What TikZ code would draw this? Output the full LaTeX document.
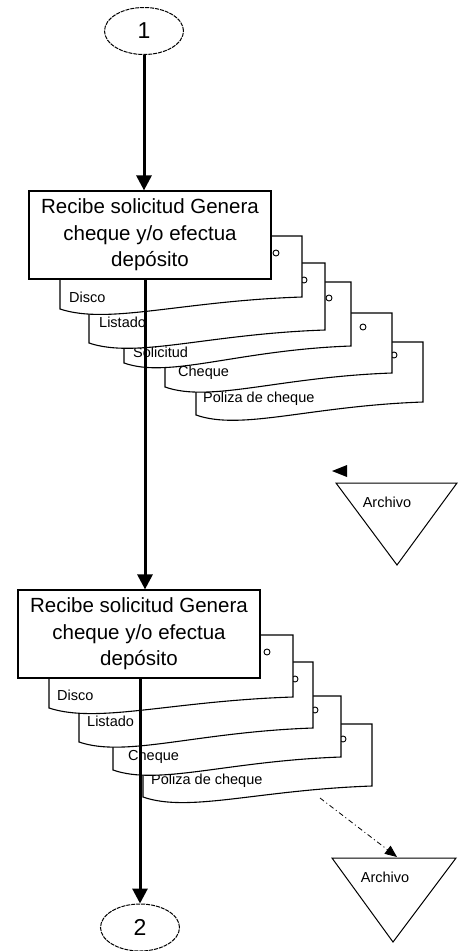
\documentclass[tikz,border=0pt]{standalone}
\usepackage{fontspec}
\setmainfont{Liberation Sans}
\usetikzlibrary{arrows.meta,calc,shapes.geometric}
% #1 L, #2 T, #3 R, #4 yL, #5 yR, #6 hole (x,y), #7 label (x,y), #8 label text, #9 label name
\newcommand\mydocshape[9]{%
  \path[docbody] (#1,#2) -- (#3,#2) -- (#3,#5)
    .. controls ({#1+0.5*(#3-#1)},{#5+4}) and ({#1+0.2*(#3-#1)},{#4+16}) .. (#1,#4) -- cycle;
  \draw[hole] #6 circle[radius=3];
  \node[doclabel] (#9) at #7 {#8};
}
\begin{document}
\begin{tikzpicture}[x=1pt,y=-1pt,
  flow/.style={line width=3pt,-{Triangle[length=15pt,width=15pt]}},
  dotflow/.style={line width=0.8pt,dash pattern=on 5pt off 3pt on 1pt off 3pt,-{Triangle[length=12pt,width=10pt]}},
  proc/.style={draw,line width=1.2pt,fill=white,minimum width=242pt,minimum height=88pt,
    align=center,inner sep=0pt,font=\fontsize{20.5}{26.5}\selectfont},
  conn/.style={ellipse,draw,dash pattern=on 4pt off 1pt,line width=1pt,minimum width=79pt,
    minimum height=47pt,inner sep=0pt,font=\fontsize{23}{24}\selectfont},
  docbody/.style={draw,line width=1.1pt,fill=white},
  doclabel/.style={anchor=west,inner sep=0pt,font=\fontsize{14.5}{15}\selectfont},
  hole/.style={draw,line width=0.9pt,fill=white},
  archivo/.style={draw,line width=1pt,fill=white},
  archlabel/.style={inner sep=0pt,font=\fontsize{14.5}{16}\selectfont}]
\useasboundingbox[fill=white] (0,0) rectangle (458,951);

% connector 1
\node[conn] (e1) at (144,31) {1};

% first stack of documents (back to front)
\mydocshape{196}{342}{423}{415}{402}{(394,355)}{(203,399)}{Poliza de cheque}{s1d5}
\mydocshape{165}{313}{392}{387}{373}{(363,327)}{(178,373)}{Cheque}{s1d4}
\mydocshape{124}{282}{351}{363}{346}{(329,298)}{(133,352)}{Solicitud}{s1d3}
\mydocshape{89}{263}{325}{343}{330}{(304,280)}{(99,322)}{Listado}{s1d2}
\mydocshape{60}{236}{302}{309}{297}{(276,253)}{(69,297)}{Disco}{s1d1}

\node[proc] (b1) at (150,235) {Recibe solicitud Genera\\cheque y/o efectua\\depósito};

% archivo 1
\path[archivo] (336,483) -- (457,483) -- (397,565) -- cycle;
\node[archlabel] (a1) at (387,502) {Archivo};
\fill (347,465) -- (332,471) -- (347,477) -- cycle;

% second stack of documents (back to front)
\mydocshape{143}{724}{372}{797}{786}{(343,739)}{(151,781)}{Poliza de cheque}{s2d4}
\mydocshape{113}{696}{341}{770}{757}{(315,710)}{(128,757)}{Cheque}{s2d3}
\mydocshape{79}{662}{313}{742}{728}{(295,679)}{(87,721)}{Listado}{s2d2}
\mydocshape{49}{635}{293}{708}{697}{(267,652)}{(57,695)}{Disco}{s2d1}

\node[proc] (b2) at (139,634) {Recibe solicitud Genera\\cheque y/o efectua\\depósito};

% archivo 2
\path[archivo] (332,858) -- (456,858) -- (393,942) -- cycle;
\node[archlabel] (a2) at (385,877) {Archivo};
\coordinate (a2top) at (397,857);
\coordinate (p2) at (320,798);

% connector 2
\node[conn] (e2) at (140,927.5) {2};

% flow lines
\draw[flow] (e1.south) -- (e1.south |- b1.north);
\draw[flow] ([xshift=-5pt]b1.south) -- ([xshift=-5pt]b1.south |- b2.north);
\draw[flow] (b2.south -| e2.north) -- (e2.north);
\draw[dotflow] (p2) -- (a2top);
\end{tikzpicture}
\end{document}
